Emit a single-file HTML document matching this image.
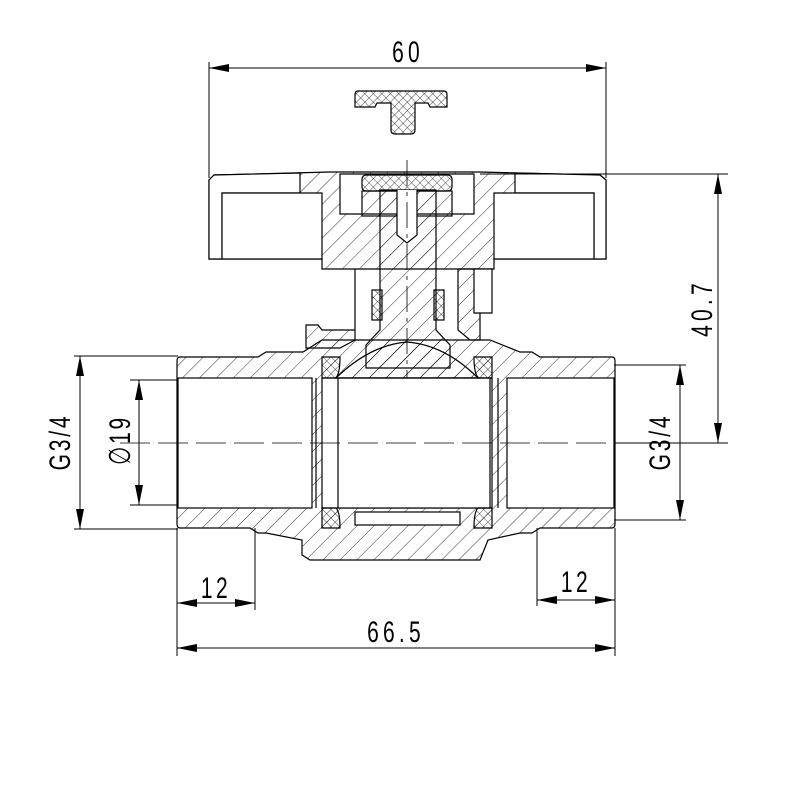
<!DOCTYPE html>
<html><head><meta charset="utf-8"><style>
html,body{margin:0;padding:0;background:#fff;width:800px;height:800px;overflow:hidden}
text{font-family:"Liberation Sans",sans-serif;fill:#000}
</style></head><body>
<svg width="800" height="800" viewBox="0 0 800 800" xmlns="http://www.w3.org/2000/svg">
<defs>
<pattern id="h" width="12" height="12" patternUnits="userSpaceOnUse" patternTransform="rotate(45)">
<line x1="0" y1="0" x2="0" y2="12" stroke="#000" stroke-width="0.8"/></pattern>
<pattern id="x" width="6" height="6" patternUnits="userSpaceOnUse" patternTransform="rotate(45)">
<line x1="0" y1="0" x2="0" y2="6" stroke="#000" stroke-width="0.7"/><line x1="0" y1="0" x2="6" y2="0" stroke="#000" stroke-width="0.7"/></pattern>
<marker id="a" viewBox="0 0 10 4" refX="10" refY="2" markerWidth="22" markerHeight="8" markerUnits="userSpaceOnUse" orient="auto-start-reverse"><path d="M0,0L10,2L0,4z" fill="#000"/></marker>
</defs>
<g fill="none" stroke="#000" stroke-width="1.2">
<path d="M358,91 H444 Q447,91 447,95 V107 H430 L428,103 H415 V130 Q415,134 411,134 H395 Q391,134 391,130 V103 H377 L375,107 H355 V95 Q355,91 358,91Z" fill="url(#x)"/>
<!-- handle -->
<path d="M209,259 V180 L214,175 L330,172 H480 L600,175 L606,180 V259 H494 V269 H322 V259 Z" fill="url(#h)"/>
<path d="M209,259 V180 L214,175 L300,173 L300,193 H222 V259 Z" fill="#fff"/>
<path d="M606,259 V180 L600,175 L515,173 L515,193 H594 V259 Z" fill="#fff"/>
<path d="M222,259 V193 H322 V259 Z M494,259 V193 H594 V259 Z" fill="#fff"/>
<path d="M340,214 V174 H474 V214 Z" fill="#fff"/>
<rect x="362" y="175" width="90" height="16" rx="4" fill="url(#x)"/>
<rect x="362" y="191" width="90" height="25" fill="url(#h)"/>
<!-- stem -->
<path d="M380,190 H436 V330 L450,345 V368 H366 V345 L380,330 Z" fill="url(#h)"/>
<path d="M397,190 V235 L407,243 L417,235 V190" fill="#fff"/>
<line x1="407" y1="160" x2="407" y2="470" stroke-width="0.8" stroke-dasharray="26,6,4,6"/>
<path d="M355,269 V330 H322 L318,325 H306 V348 H340 L355,340 Z" fill="url(#h)"/>
<path d="M458,269 V330 L470,340 H480 V269 Z" fill="url(#h)"/>
<rect x="372" y="290" width="10" height="30" fill="url(#x)"/>
<rect x="434" y="290" width="10" height="30" fill="url(#x)"/>
<path d="M474,269 H492 V313 H474 Z" fill="#fff"/>
<!-- body -->
<path d="M180,357 H258 L266,352 H303 L322,340 H490 L520,352 H532 L540,357 H612 Q615,357 615,361 V524 Q615,528 612,528 H540 L532,533 H520 L488,540 L480,560 H310 L302,555 V540 L266,533 H258 L250,528 H180 Q177,528 177,524 V361 Q177,357 180,357Z" fill="url(#h)"/>
<rect x="178" y="378" width="134" height="130" fill="#fff"/>
<rect x="507" y="378" width="107" height="130" fill="#fff"/>
<rect x="322" y="378" width="170" height="130" fill="#fff"/>
<rect x="338" y="378" width="152" height="130" fill="#fff"/>
<path d="M336,378 Q370,345 407,342 Q445,345 478,378 Z" fill="url(#h)"/>
<path d="M322,357 H340 Q340,373 336,378 H322 Z" fill="url(#x)"/>
<path d="M492,357 H474 Q474,373 478,378 H492 Z" fill="url(#x)"/>
<path d="M322,528 H340 Q340,512 336,508 H322 Z" fill="url(#x)"/>
<path d="M492,528 H474 Q474,512 478,508 H492 Z" fill="url(#x)"/>
<rect x="355" y="512" width="105" height="13" fill="#fff"/>
<line x1="316" y1="378" x2="316" y2="508"/><line x1="498" y1="378" x2="498" y2="508"/>
<line x1="120" y1="443" x2="720" y2="443" stroke-width="0.8" stroke-dasharray="30,8"/>
</g>
<g stroke="#000" stroke-width="1" fill="none">
<line x1="209" y1="62" x2="209" y2="178"/><line x1="606" y1="62" x2="606" y2="178"/>
<line x1="209" y1="68" x2="606" y2="68" marker-start="url(#a)" marker-end="url(#a)"/>
<line x1="480" y1="174" x2="728" y2="174"/><line x1="614" y1="443" x2="728" y2="443"/>
<line x1="718" y1="174" x2="718" y2="443" marker-start="url(#a)" marker-end="url(#a)"/>
<line x1="74" y1="356" x2="178" y2="356"/><line x1="74" y1="529" x2="178" y2="529"/>
<line x1="80" y1="356" x2="80" y2="529" marker-start="url(#a)" marker-end="url(#a)"/>
<line x1="130" y1="380" x2="178" y2="380"/><line x1="130" y1="505" x2="178" y2="505"/>
<line x1="139" y1="380" x2="139" y2="505" marker-start="url(#a)" marker-end="url(#a)"/>
<line x1="614" y1="365" x2="686" y2="365"/><line x1="614" y1="520" x2="686" y2="520"/>
<line x1="680" y1="365" x2="680" y2="520" marker-start="url(#a)" marker-end="url(#a)"/>
<line x1="177" y1="528" x2="177" y2="656"/><line x1="255" y1="528" x2="255" y2="610"/>
<line x1="177" y1="603" x2="255" y2="603" marker-start="url(#a)" marker-end="url(#a)"/>
<line x1="615" y1="528" x2="615" y2="656"/><line x1="537" y1="528" x2="537" y2="606"/>
<line x1="537" y1="600" x2="615" y2="600" marker-start="url(#a)" marker-end="url(#a)"/>
<line x1="177" y1="648" x2="615" y2="648" marker-start="url(#a)" marker-end="url(#a)"/>
</g>
<g font-size="30">
<text transform="translate(408,62) scale(0.7,1)" text-anchor="middle" letter-spacing="6">60</text>
<text transform="translate(216,598) scale(0.7,1)" text-anchor="middle" letter-spacing="5">12</text>
<text transform="translate(576,592) scale(0.7,1)" text-anchor="middle" letter-spacing="5">12</text>
<text transform="translate(396,642) scale(0.7,1)" text-anchor="middle" letter-spacing="6">66.5</text>
<text transform="translate(712,308) rotate(-90) scale(0.7,1)" text-anchor="middle" letter-spacing="6">40.7</text>
<text transform="translate(70,442) rotate(-90) scale(0.7,1)" text-anchor="middle" letter-spacing="4">G3/4</text>
<text transform="translate(670,442) rotate(-90) scale(0.7,1)" text-anchor="middle" letter-spacing="4">G3/4</text>
<text transform="translate(130,440) rotate(-90) scale(0.7,1)" text-anchor="middle" letter-spacing="4">∅19</text>
</g>
</svg>
</body></html>
